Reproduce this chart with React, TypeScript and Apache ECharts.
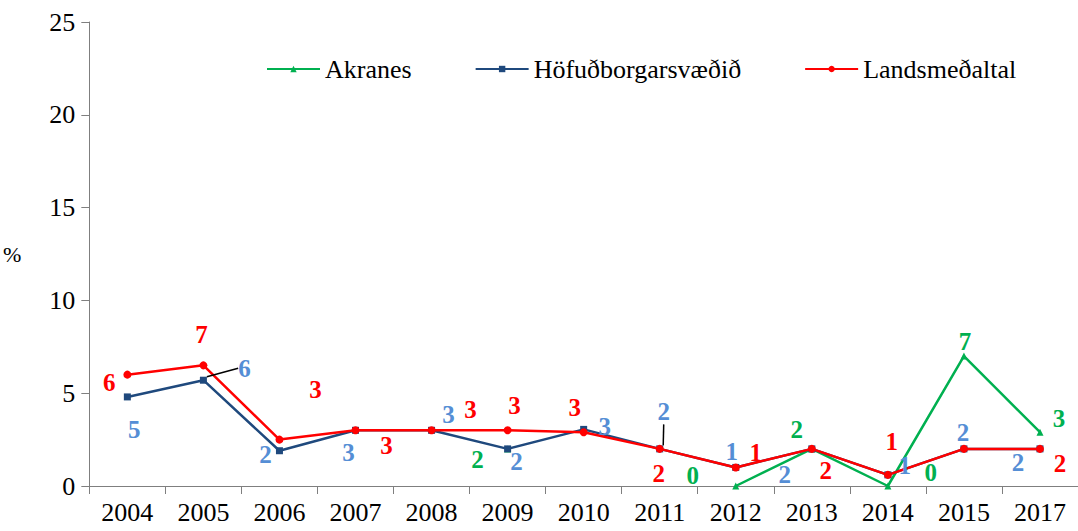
import React, { useEffect, useRef } from "react";
import * as echarts from "echarts";

const years = ["2004", "2005", "2006", "2007", "2008", "2009", "2010", "2011", "2012", "2013", "2014", "2015", "2017"];
const akranes: (number | null)[] = [null, null, null, null, null, 2.0, null, null, 0.0, 2.0, 0.0, 7.0, 2.9];
const hofud: number[] = [4.8, 5.7, 1.9, 3.0, 3.0, 2.0, 3.05, 2.0, 1.0, 2.0, 0.6, 2.0, 2.0];
const lands: number[] = [6.0, 6.5, 2.5, 3.0, 3.0, 3.0, 2.9, 2.0, 1.0, 2.0, 0.6, 2.0, 2.0];
const yTicks = { min: 0, max: 25, interval: 5 };

// label offsets (style, not data)
const landsOff: [number, number][] = [[-18, 8], [-2, -31], [36, -50], [31, 15], [39, -21], [7, -25], [-9, -25], [-1, 25], [20, -15], [14, 22], [4, -33], [0, -17], [20, 15]];
const hofudOff: [number, number][] = [[7, 33], [41, -12], [-14, 4], [-7, 22], [17, -16], [9, 13], [21, -3], [4, -37], [-4, -16], [-27, 26], [17, -9], [-1, -16], [-22, 14]];
const akrOff: [number, number][] = [[0, 0], [0, 0], [0, 0], [0, 0], [0, 0], [-30, 11], [0, 0], [0, 0], [-43, -11], [-15, -19], [43, -14], [1, -15], [19, -14]];
const hiddenLandsLabels = [11];
const leaderHofud = [1, 7];

const FONT = "Times New Roman, Liberation Serif, Tinos, DejaVu Serif, serif";

function layoutFn(off: [number, number][]) {
  return (p: any) => {
    const o = off[p.dataIndex] || [0, 0];
    const r = p.rect;
    return {
      x: r.x + r.width / 2 + o[0],
      y: r.y + r.height / 2 + o[1],
      align: "center",
      verticalAlign: "middle",
    };
  };
}

export default function App() {
  const ref = useRef<HTMLDivElement>(null);
  useEffect(() => {
    if (!ref.current) return;
    const chart = echarts.init(ref.current, null, { renderer: "svg" });
    const labelBase = {
      show: true,
      fontFamily: FONT,
      fontSize: 25,
      fontWeight: "bold" as const,
      formatter: (p: any) => String(Math.round(p.value)),
    };
    chart.setOption({
      animation: false,
      backgroundColor: "#ffffff",
      textStyle: { fontFamily: FONT },
      grid: { left: 89, right: 0, top: 22, bottom: 45 },
      legend: {
        left: 261,
        top: 51,
        itemWidth: 53,
        itemHeight: 8,
        itemGap: 63,
        textStyle: { fontFamily: FONT, fontSize: 26, color: "#000" },
        data: ["Akranes", "Höfuðborgarsvæðið", "Landsmeðaltal"],
      },
      xAxis: {
        type: "category",
        data: years,
        boundaryGap: true,
        axisLine: { lineStyle: { color: "#7f7f7f", width: 1 } },
        axisTick: { show: true, length: 8, lineStyle: { color: "#7f7f7f" } },
        axisLabel: { color: "#000", fontFamily: FONT, fontSize: 26, margin: 13, interval: 0 },
      },
      yAxis: {
        type: "value",
        min: yTicks.min,
        max: yTicks.max,
        interval: yTicks.interval,
        name: "%",
        nameLocation: "middle",
        nameRotate: 0,
        nameGap: 68,
        nameTextStyle: { color: "#000", fontFamily: FONT, fontSize: 22 },
        splitLine: { show: false },
        axisLine: { show: true, lineStyle: { color: "#7f7f7f", width: 1 } },
        axisTick: { show: true, length: 8, lineStyle: { color: "#7f7f7f" } },
        axisLabel: { color: "#000", fontFamily: FONT, fontSize: 26, margin: 14 },
      },
      series: [
        {
          name: "Akranes",
          type: "line",
          data: akranes,
          connectNulls: false,
          showAllSymbol: true,
          symbol: "triangle",
          symbolSize: 7,
          color: "#00B050",
          lineStyle: { width: 2.5, color: "#00B050" },
          itemStyle: { color: "#00B050" },
          label: { ...labelBase, color: "#00B050" },
          labelLayout: layoutFn(akrOff),
        },
        {
          name: "Höfuðborgarsvæðið",
          type: "line",
          data: hofud.map((v, i) =>
            leaderHofud.includes(i)
              ? { value: v, labelLine: { show: true, lineStyle: { color: "#000", width: 1.5 } } }
              : v
          ),
          showAllSymbol: true,
          symbol: "rect",
          symbolSize: 7,
          color: "#1F497D",
          lineStyle: { width: 2.5, color: "#1F497D" },
          itemStyle: { color: "#1F497D" },
          label: { ...labelBase, color: "#558ED5" },
          labelLine: { show: false },
          labelLayout: layoutFn(hofudOff),
        },
        {
          name: "Landsmeðaltal",
          type: "line",
          data: lands.map((v, i) =>
            hiddenLandsLabels.includes(i) ? { value: v, label: { show: false } } : v
          ),
          showAllSymbol: true,
          symbol: "circle",
          symbolSize: 8,
          color: "#FF0000",
          lineStyle: { width: 2.5, color: "#FF0000" },
          itemStyle: { color: "#FF0000" },
          label: { ...labelBase, color: "#FF0000" },
          labelLayout: layoutFn(landsOff),
        },
      ],
    });
    return () => chart.dispose();
  }, []);
  return (
    <div
      ref={ref}
      style={{ position: "absolute", left: 0, top: 0, width: 1078, height: 531, background: "#fff" }}
    />
  );
}
